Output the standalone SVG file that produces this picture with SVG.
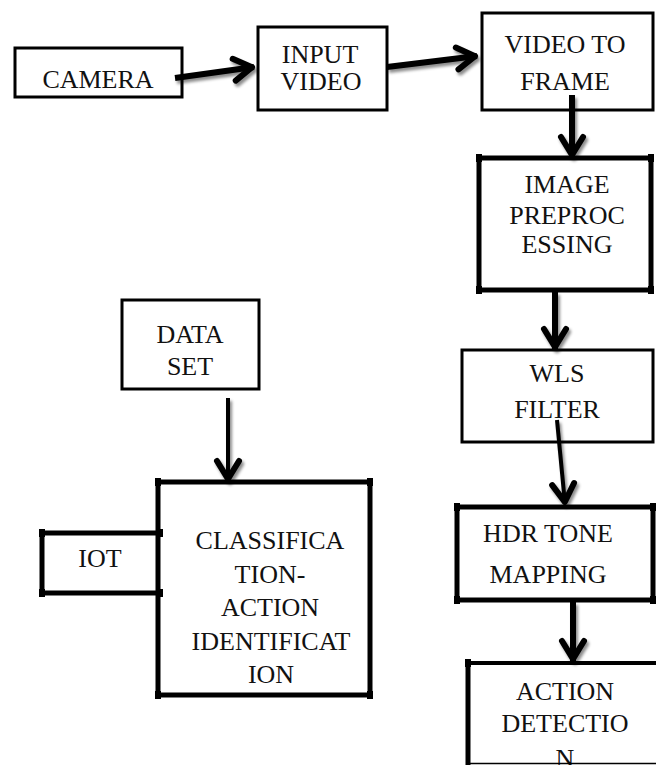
<svg xmlns="http://www.w3.org/2000/svg" width="656" height="765" viewBox="0 0 656 765">
<style>
text{font-family:"Liberation Serif","DejaVu Serif","Noto Serif",serif;font-size:26px;fill:#111;text-anchor:middle}
.thin{fill:#fff;stroke:#000;stroke-width:3}
.thick{fill:#fff;stroke:#000;stroke-width:5}
.nub{fill:#000}
.conn{fill:none;stroke:#000;stroke-width:6;marker-end:url(#head)}
.conn.slim{stroke-width:4}
</style>
<defs>
<filter id="shadow" x="-20%" y="-20%" width="140%" height="140%">
<feDropShadow dx="2" dy="3" stdDeviation="1.5" flood-color="#000" flood-opacity="0.45"/>
</filter>
<marker id="head" markerUnits="userSpaceOnUse" viewBox="-26 -16 30 32" refX="0" refY="0" markerWidth="30" markerHeight="32" orient="auto">
<path d="M-20,-11 L-2,0 L-20,11" fill="none" stroke="#000" stroke-width="6" stroke-linejoin="round" stroke-linecap="round"/>
</marker>
</defs>
<rect width="656" height="765" fill="#fff"/>

<g font-family="Liberation Serif, serif">
<g id="camera">
<rect class="thin" x="15" y="48" width="167" height="49"/>
<text x="98" y="88">CAMERA</text>
</g>

<g id="input-video">
<rect class="thin" x="258" y="27" width="129" height="83"/>
<text x="320" y="63">INPUT</text>
<text x="321" y="90">VIDEO</text>
</g>

<g id="video-to-frame">
<rect class="thin" x="482" y="13" width="171" height="97"/>
<text x="565" y="53">VIDEO TO</text>
<text x="565" y="90">FRAME</text>
</g>

<g id="image-preprocessing">
<rect class="thick" x="479" y="158" width="172" height="132"/>
<rect class="nub" x="476" y="154" width="6" height="8"/>
<rect class="nub" x="648" y="154" width="6" height="8"/>
<rect class="nub" x="476" y="286" width="6" height="8"/>
<rect class="nub" x="648" y="286" width="6" height="8"/>
<text x="567" y="193">IMAGE</text>
<text x="567" y="224">PREPROC</text>
<text x="567" y="253">ESSING</text>
</g>

<g id="wls-filter">
<rect class="thin" x="462" y="350" width="191" height="92"/>
<text x="557" y="382">WLS</text>
<text x="557" y="418">FILTER</text>
</g>

<g id="hdr-tone-mapping">
<rect class="thick" x="457" y="507" width="196" height="93"/>
<rect class="nub" x="454" y="503" width="6" height="8"/>
<rect class="nub" x="650" y="503" width="6" height="8"/>
<rect class="nub" x="454" y="596" width="6" height="8"/>
<rect class="nub" x="650" y="596" width="6" height="8"/>
<text x="548" y="542">HDR TONE</text>
<text x="548" y="583">MAPPING</text>
</g>

<g id="action-detection">
<line x1="468" y1="663" x2="656" y2="663" stroke="#000" stroke-width="4"/>
<line x1="468" y1="661" x2="468" y2="765" stroke="#000" stroke-width="5"/>
<rect class="nub" x="465" y="659" width="6" height="8"/>
<text x="565" y="700">ACTION</text>
<text x="565" y="732">DETECTIO</text>
<text x="565" y="767">N</text>
<line x1="466" y1="763.5" x2="656" y2="763.5" stroke="#000" stroke-width="1.5"/>
</g>

<g id="data-set">
<rect class="thin" x="122" y="300" width="137" height="89"/>
<text x="190" y="343">DATA</text>
<text x="190" y="375">SET</text>
</g>

<g id="classification">
<rect class="thick" x="158" y="482" width="212" height="213"/>
<rect class="nub" x="155" y="478" width="6" height="8"/>
<rect class="nub" x="367" y="478" width="6" height="8"/>
<rect class="nub" x="155" y="691" width="6" height="8"/>
<rect class="nub" x="367" y="691" width="6" height="8"/>
<text x="270" y="549">CLASSIFICA</text>
<text x="270" y="583">TION-</text>
<text x="270" y="616">ACTION</text>
<text x="271" y="650">IDENTIFICAT</text>
<text x="271" y="683">ION</text>
</g>

<g id="iot">
<path d="M160,533 H42 V593 H160" fill="none" stroke="#000" stroke-width="5"/>
<rect class="nub" x="39" y="529" width="6" height="8"/>
<rect class="nub" x="39" y="589" width="6" height="8"/>
<rect class="nub" x="157" y="529" width="6" height="8"/>
<rect class="nub" x="157" y="589" width="6" height="8"/>
<text x="100" y="567">IOT</text>
</g>
</g>

<g id="connectors" filter="url(#shadow)">
<line class="conn" x1="175" y1="78" x2="254" y2="67"/>
<line class="conn" x1="387" y1="67" x2="477" y2="56"/>
<line class="conn" x1="572" y1="95" x2="572" y2="157"/>
<line class="conn" x1="555" y1="292" x2="555" y2="349"/>
<line class="conn slim" x1="557" y1="420" x2="565" y2="504"/>
<line class="conn" x1="573" y1="602" x2="573" y2="661"/>
<line class="conn slim" x1="228" y1="398" x2="228" y2="481"/>
</g>
</svg>
